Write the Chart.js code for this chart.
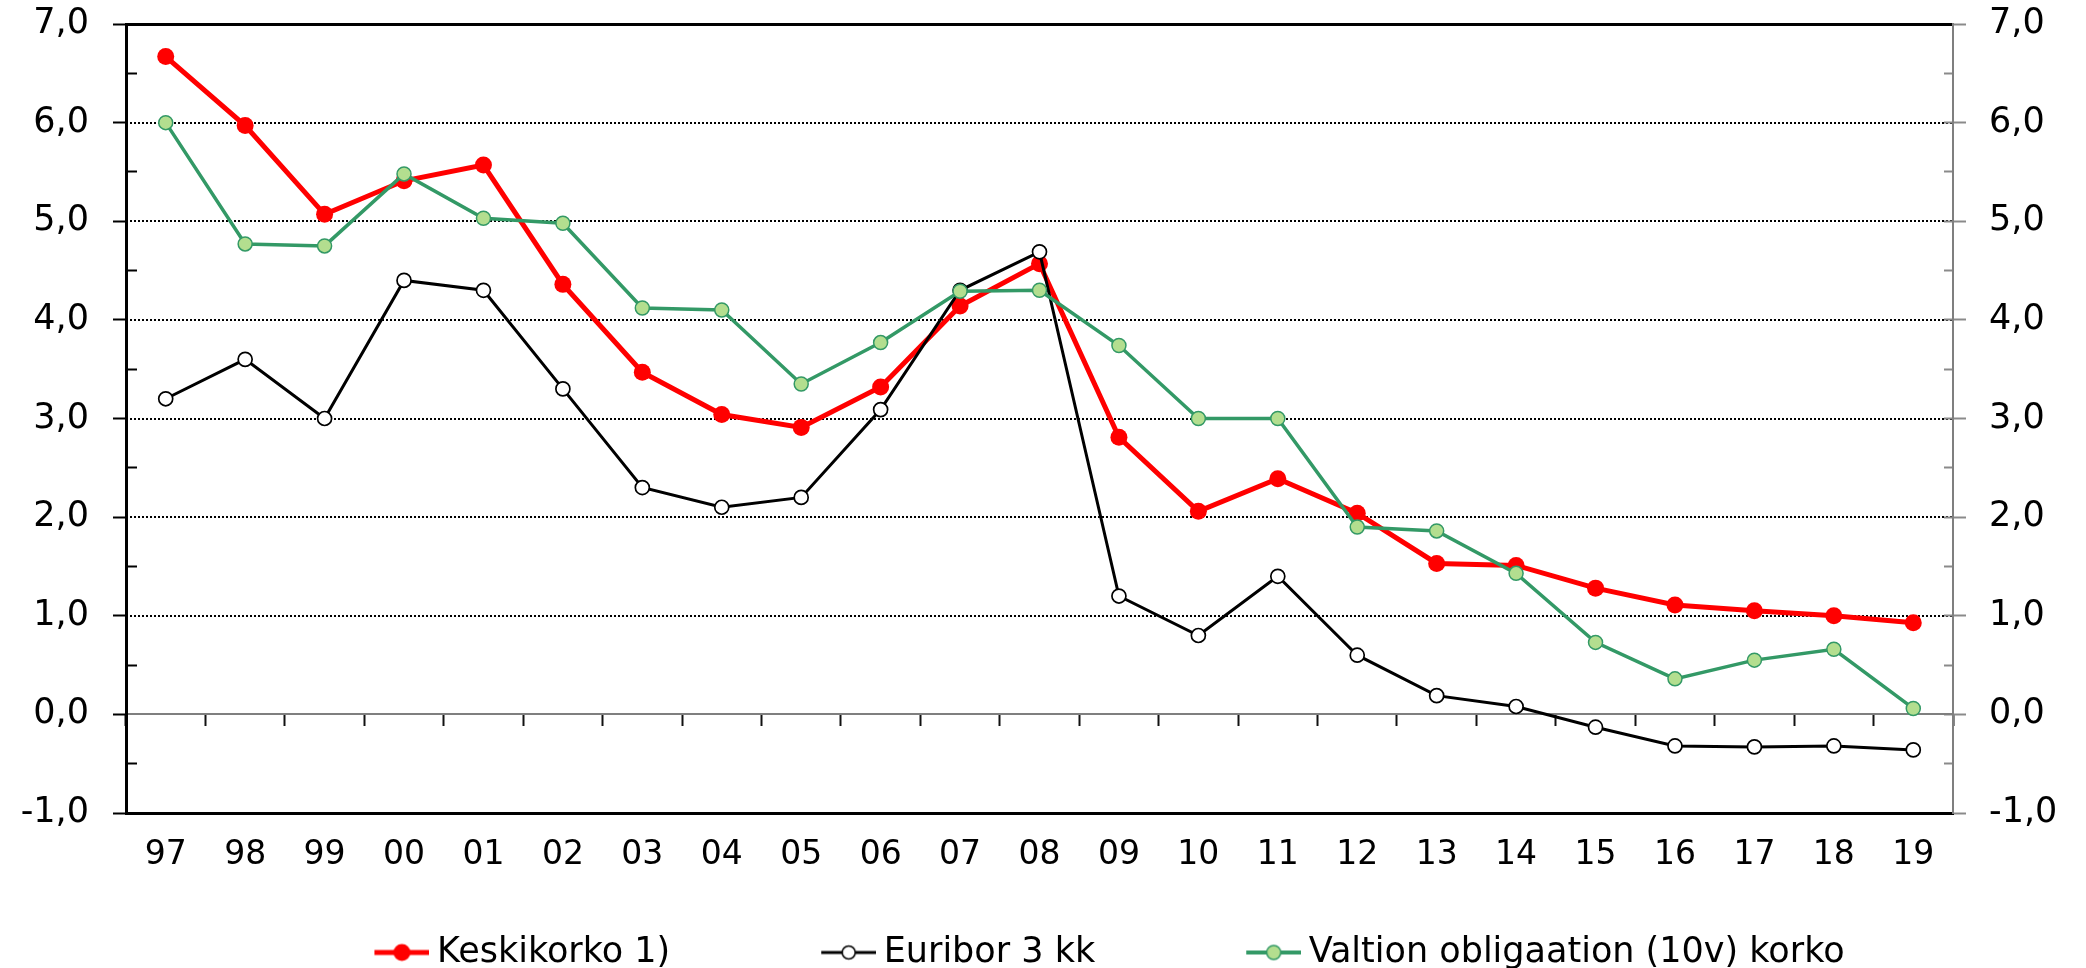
<!DOCTYPE html>
<html>
<head>
<meta charset="utf-8">
<script src="https://cdn.jsdelivr.net/npm/chart.js@4.4.1/dist/chart.umd.min.js"></script>
<style>
  html, body { margin: 0; padding: 0; background: #fff; }
  #wrap { width: 2086px; height: 968px; }
</style>
</head>
<body>
<div id="wrap"><canvas id="c" width="2086" height="968"></canvas></div>
<script>
// ---- Data ----
const years = ['97','98','99','00','01','02','03','04','05','06','07','08','09','10','11','12','13','14','15','16','17','18','19'];
const keskikorko = [6.67, 5.97, 5.07, 5.41, 5.57, 4.36, 3.47, 3.04, 2.91, 3.32, 4.14, 4.57, 2.81, 2.06, 2.39, 2.04, 1.53, 1.51, 1.28, 1.11, 1.05, 1.00, 0.93];
const euribor = [3.20, 3.60, 3.00, 4.40, 4.30, 3.30, 2.30, 2.10, 2.20, 3.09, 4.30, 4.69, 1.20, 0.80, 1.40, 0.60, 0.19, 0.08, -0.13, -0.32, -0.33, -0.32, -0.36];
const valtion = [6.00, 4.77, 4.75, 5.48, 5.03, 4.98, 4.12, 4.10, 3.35, 3.77, 4.29, 4.30, 3.74, 3.00, 3.00, 1.90, 1.86, 1.43, 0.73, 0.36, 0.55, 0.66, 0.06];
const seriesNames = ['Keskikorko 1)', 'Euribor 3 kk', 'Valtion obligaation (10v) korko'];
const yMin = -1, yMax = 7;

const FONT = "'DejaVu Sans', Verdana, sans-serif";
const fmt = v => Number(v).toFixed(1).replace('.', ',');

// legend icons: line with a marker, drawn into small canvases
const LEG_BOX = 186;
function makeIcon(lineColor, lineW, fill, stroke, strokeW, r) {
  const c = document.createElement('canvas');
  c.width = LEG_BOX + 20; c.height = 26;
  const g = c.getContext('2d');
  const x0 = c.width - 55, x1 = c.width, cy = 13;
  g.strokeStyle = lineColor; g.lineWidth = lineW;
  g.beginPath(); g.moveTo(x0, cy); g.lineTo(x1, cy); g.stroke();
  g.beginPath(); g.arc((x0 + x1) / 2, cy, r, 0, Math.PI * 2);
  g.fillStyle = fill; g.fill();
  if (strokeW > 0) { g.lineWidth = strokeW; g.strokeStyle = stroke; g.stroke(); }
  return c;
}
const icons = [
  makeIcon('#FF0000', 5, '#FF0000', '#FF0000', 0, 8.5),
  makeIcon('#000000', 3, '#FFFFFF', '#000000', 1.5, 6.5),
  makeIcon('#339966', 4, '#B3DE8F', '#339966', 1.5, 7)
];

const noVertMargins = s => { s.paddingTop = 0; s.paddingBottom = 0; };

const ctx = document.getElementById('c').getContext('2d');
new Chart(ctx, {
  type: 'line',
  data: {
    labels: years,
    datasets: [
      { label: seriesNames[0], data: keskikorko, xAxisID: 'x', yAxisID: 'y', order: 3,
        borderColor: '#FF0000', borderWidth: 5, backgroundColor: '#FF0000',
        pointRadius: 8.5, pointBackgroundColor: '#FF0000', pointBorderColor: '#FF0000', pointBorderWidth: 0, tension: 0 },
      { label: seriesNames[1], data: euribor, xAxisID: 'x', yAxisID: 'y', order: 2,
        borderColor: '#000000', borderWidth: 3, backgroundColor: '#FFFFFF',
        pointRadius: 7, pointBackgroundColor: '#FFFFFF', pointBorderColor: '#000000', pointBorderWidth: 1.7, tension: 0 },
      { label: seriesNames[2], data: valtion, xAxisID: 'x', yAxisID: 'y', order: 1,
        borderColor: '#339966', borderWidth: 3.5, backgroundColor: '#B3DE8F',
        pointRadius: 7, pointBackgroundColor: '#B3DE8F', pointBorderColor: '#339966', pointBorderWidth: 1.5, tension: 0 }
    ]
  },
  options: {
    responsive: false,
    animation: false,
    devicePixelRatio: 1,
    layout: { padding: { left: 21, right: 29, top: 24, bottom: -12 } },
    plugins: {
      tooltip: { enabled: false },
      legend: {
        position: 'bottom',
        labels: {
          usePointStyle: true,
          pointStyleWidth: LEG_BOX,
          boxHeight: 20,
          padding: 10,
          color: '#000',
          font: { family: FONT, size: 35 },
          generateLabels: chart => chart.data.datasets.map((ds, i) => ({
            text: ds.label, pointStyle: icons[i], datasetIndex: i,
            fillStyle: 'rgba(0,0,0,0)', strokeStyle: 'rgba(0,0,0,0)', lineWidth: 0,
            hidden: false, fontColor: '#000'
          }))
        }
      }
    },
    scales: {
      x: {
        type: 'category', position: 'bottom', offset: true,
        grid: { display: false, drawTicks: false },
        border: { display: true, color: '#000', width: 3 },
        ticks: { color: '#000', font: { family: FONT, size: 33 }, padding: 23, maxRotation: 0, autoSkip: false },
        afterFit: s => { s.height = 112; }
      },
      xTop: {
        axis: 'x', type: 'category', position: 'top', offset: true,
        grid: { display: false, drawTicks: false },
        border: { display: true, color: '#000', width: 3 },
        ticks: { display: false }
      },
      xZero: {
        axis: 'x', type: 'category', position: { y: 0 }, offset: true,
        grid: { display: true, drawOnChartArea: false, drawTicks: true, offset: true, tickLength: 11, tickColor: '#111', tickWidth: 2 },
        border: { display: true, color: '#7f7f7f', width: 2 },
        ticks: { display: false }
      },
      y: {
        type: 'linear', position: 'left', min: yMin, max: yMax,
        grid: { display: true, drawOnChartArea: false, drawTicks: true, tickLength: 13, tickColor: '#000', tickWidth: 2 },
        border: { display: true, color: '#000', width: 3 },
        ticks: { stepSize: 1, color: '#000', font: { family: FONT, size: 35 }, padding: 24, callback: v => fmt(v) },
        afterFit: s => { s.width = 105; noVertMargins(s); }
      },
      yGrid: {
        axis: 'y', type: 'linear', position: 'left', min: yMin, max: yMax,
        grid: { display: true, drawOnChartArea: true, drawTicks: false, lineWidth: 2,
                color: c => (c.tick && c.tick.value >= 1 && c.tick.value <= 6) ? '#000' : 'rgba(0,0,0,0)' },
        border: { display: false, dash: [2, 2] },
        ticks: { display: false, stepSize: 1 },
        afterFit: noVertMargins
      },
      yMinL: {
        axis: 'y', type: 'linear', position: { x: -0.5 + 11 / 79.43 }, min: yMin, max: yMax,
        grid: { display: true, drawOnChartArea: false, drawTicks: true, tickLength: 11, tickWidth: 2,
                tickColor: c => (c.tick && Number.isInteger(c.tick.value)) ? 'rgba(0,0,0,0)' : '#000' },
        border: { display: false },
        ticks: { display: false, stepSize: 0.5 },
        afterFit: noVertMargins
      },
      yMinR: {
        axis: 'y', type: 'linear', position: { x: 22.5 }, min: yMin, max: yMax,
        grid: { display: true, drawOnChartArea: false, drawTicks: true, tickLength: 9, tickWidth: 2, tickColor: '#8a8a8a' },
        border: { display: false },
        ticks: { display: false, stepSize: 0.5 },
        afterFit: noVertMargins
      },
      y2: {
        axis: 'y', type: 'linear', position: 'right', min: yMin, max: yMax,
        grid: { display: true, drawOnChartArea: false, drawTicks: true, tickLength: 13, tickColor: '#8a8a8a', tickWidth: 2 },
        border: { display: true, color: '#7f7f7f', width: 2 },
        ticks: { stepSize: 1, color: '#000', font: { family: FONT, size: 35 }, padding: 23, callback: v => fmt(v) },
        afterFit: s => { s.width = 104; noVertMargins(s); }
      }
    }
  }
});
</script>
</body>
</html>
